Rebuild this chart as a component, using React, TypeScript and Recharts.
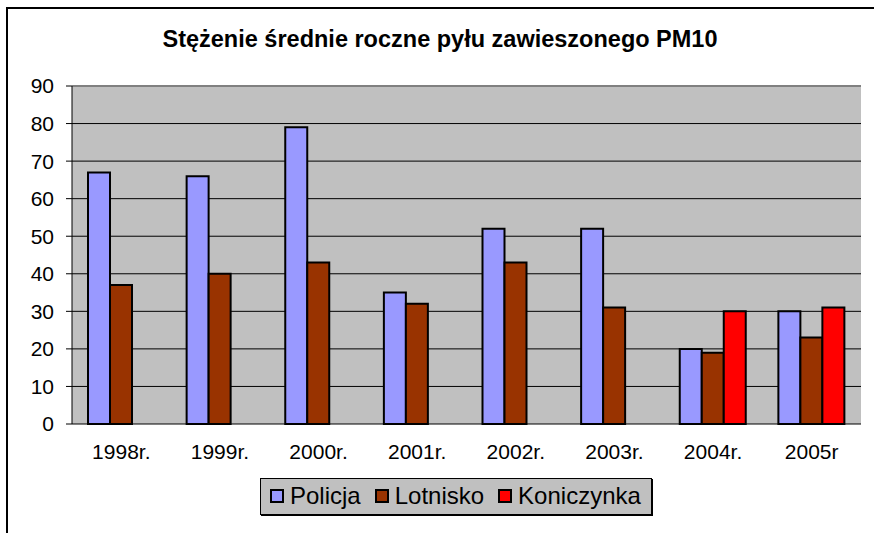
import {
  BarChart, Bar, XAxis, YAxis, CartesianGrid, Legend, ReferenceLine,
} from 'recharts';

const YEARS = ['1998r.', '1999r.', '2000r.', '2001r.', '2002r.', '2003r.', '2004r.', '2005r'];
const POLICJA = [67, 66, 79, 35, 52, 52, 20, 30];
const LOTNISKO = [37, 40, 43, 32, 43, 31, 19, 23];
const KONICZYNKA = [null, null, null, null, null, null, 30, 31];
const Y_TICKS = [0, 10, 20, 30, 40, 50, 60, 70, 80, 90];
const BOUNDARY_TICKS = [0, 1, 2, 3, 4, 5, 6, 7, 8];

const SERIES = [
  { key: 'Policja', values: POLICJA, color: '#9999FF' },
  { key: 'Lotnisko', values: LOTNISKO, color: '#993300' },
  { key: 'Koniczynka', values: KONICZYNKA, color: '#FF0000' },
];

const FONT = '"Liberation Sans", Arial, sans-serif';

const data = YEARS.map((year, i) => {
  const row: Record<string, number | string | null> = { year };
  for (const s of SERIES) row[s.key] = s.values[i];
  return row;
});

function LegendBox() {
  return (
    <div
      style={{
        display: 'flex', alignItems: 'center', gap: 14, background: '#C0C0C0',
        border: '1px solid #000', padding: '2px 10px 3px 9px', fontFamily: FONT, fontSize: 24,
        boxShadow: '1px 1px 0 #000', lineHeight: '30px',
      }}
    >
      {SERIES.map((s) => (
        <span key={s.key} style={{ display: 'flex', alignItems: 'center' }}>
          <span
            style={{
              display: 'inline-block', width: 10, height: 10, background: s.color,
              border: '2px solid #000', marginRight: 6,
            }}
          />
          {s.key}
        </span>
      ))}
    </div>
  );
}

export default function App() {
  return (
    <div style={{ position: 'absolute', left: 0, top: 0, width: 874, height: 533, background: '#fff', overflow: 'hidden' }}>
      <div
        style={{
          position: 'absolute', left: 6, top: 7, width: 900, height: 560,
          borderTop: '2px solid #000', borderLeft: '2px solid #000',
        }}
      />
      <div
        style={{
          position: 'absolute', left: 0, top: 26, width: 880, textAlign: 'center',
          fontFamily: FONT, fontWeight: 'bold', fontSize: 23.5,
        }}
      >
        Stężenie średnie roczne pyłu zawieszonego PM10
      </div>
      <div style={{ position: 'absolute', left: 0, top: 0 }}>
        <BarChart
          width={874}
          height={533}
          data={data}
          barSize={22}
          barGap={0}
          margin={{ top: 86, right: 13, left: 0, bottom: 69 }}
        >
          <CartesianGrid fill="#C0C0C0" stroke="#000" vertical={false} />
          <XAxis
            xAxisId="n"
            type="number"
            domain={[0, 8]}
            ticks={BOUNDARY_TICKS}
            tickFormatter={() => ''}
            height={0}
            tickSize={6}
            stroke="#000"
            allowDataOverflow
          />
          <XAxis
            xAxisId="c"
            dataKey="year"
            axisLine={false}
            tickLine={false}
            tickSize={8}
            tickMargin={12}
            height={40}
            interval={0}
            tick={{ fill: '#000', fontSize: 21, fontFamily: FONT }}
          />
          <YAxis
            domain={[0, 90]}
            ticks={Y_TICKS}
            width={72}
            tickSize={6}
            tickMargin={12}
            stroke="#000"
            interval={0}
            tick={{ fill: '#000', fontSize: 21, fontFamily: FONT }}
          />
          <ReferenceLine y={90} xAxisId="c" stroke="#808080" strokeWidth={2} />
          <ReferenceLine x={8} xAxisId="n" stroke="#808080" strokeWidth={2} />
          <Legend
            verticalAlign="middle"
            layout="horizontal"
            content={<LegendBox />}
            wrapperStyle={{ position: 'absolute', left: 260, top: 478, width: 'auto', height: 'auto' }}
          />
          {SERIES.map((s) => (
            <Bar
              key={s.key}
              xAxisId="c"
              dataKey={s.key}
              fill={s.color}
              stroke="#000"
              strokeWidth={2}
              isAnimationActive={false}
            />
          ))}
        </BarChart>
      </div>
    </div>
  );
}
